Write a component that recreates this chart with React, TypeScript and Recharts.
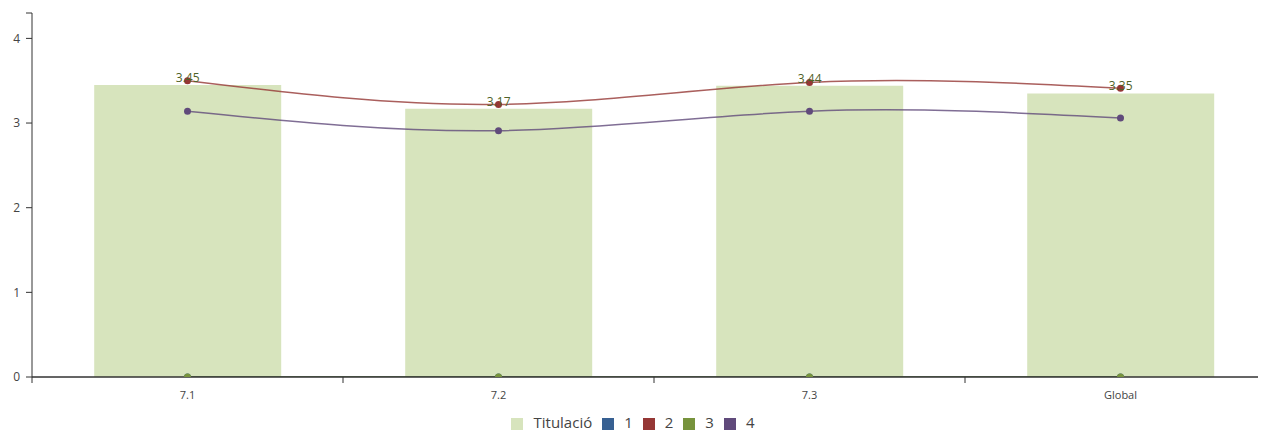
import { ComposedChart, Bar, Line, XAxis, YAxis, Legend, LabelList, ReferenceLine } from 'recharts';

const categories = ['7.1', '7.2', '7.3', 'Global'];
const titulacio = [3.45, 3.17, 3.44, 3.35];
const serie1 = [0, 0, 0, 0];
const serie2 = [3.5, 3.22, 3.48, 3.41];
const serie3 = [0, 0, 0, 0];
const serie4 = [3.14, 2.91, 3.14, 3.06];
const yTicks = [0, 1, 2, 3, 4, 4.3];
const legendOrder = ['Titulació', '1', '2', '3', '4'];

const data = categories.map((c, i) => ({
  name: c,
  titulacio: titulacio[i],
  s1: serie1[i],
  s2: serie2[i],
  s3: serie3[i],
  s4: serie4[i],
}));

const BAND = 311;
const AXIS = '#333';
const FONT = '"Open Sans", "Noto Sans", sans-serif';

// category label in the middle, tick mark at the left edge of each band
function XTick(props: any) {
  const { x, y, payload } = props;
  const axisY = y - 14;
  return (
    <g>
      <line x1={x - BAND / 2} x2={x - BAND / 2} y1={axisY} y2={axisY + 6} stroke={AXIS} />
      <text x={x} y={y} dy="0.71em" textAnchor="middle" fontSize={11} fill="#444" fontFamily={FONT}>
        {payload.value}
      </text>
    </g>
  );
}

export default function App() {
  const lines = [
    { key: 's1', name: '1', color: '#376092' },
    { key: 's2', name: '2', color: '#953735' },
    { key: 's3', name: '3', color: '#77933c' },
    { key: 's4', name: '4', color: '#604a7b' },
  ];
  return (
    <div style={{ width: 1266, height: 432, overflow: 'hidden', margin: '-8px -8px 0 -8px', fontFamily: FONT }}>
      <ComposedChart
        width={1276}
        height={432}
        data={data}
        margin={{ top: 13, right: 0, bottom: 0, left: 0 }}
        barCategoryGap="20%"
      >
        <XAxis
          dataKey="name"
          height={28}
          tickLine={false}
          tickSize={6}
          tickMargin={8}
          tick={<XTick />}
          axisLine={{ stroke: AXIS }}
        />
        <YAxis
          width={32}
          domain={[0, 4.3]}
          allowDataOverflow
          ticks={yTicks}
          interval={0}
          tickSize={6}
          tickMargin={6}
          tickFormatter={(v: number) => (v === 4.3 ? '' : String(v))}
          tick={{ fontSize: 12, fill: '#444', fontFamily: FONT }}
          axisLine={{ stroke: AXIS }}
          tickLine={{ stroke: AXIS }}
        />
        <Legend
          verticalAlign="bottom"
          iconType="square"
          iconSize={12}
          itemSorter={(item: any) => legendOrder.indexOf(item.value)}
          wrapperStyle={{ fontSize: 15, fontFamily: FONT, lineHeight: '20px', paddingTop: 7 }}
          formatter={(v: string) => (
            <span style={{ color: '#444', paddingLeft: 6 }}>{v}</span>
          )}
        />
        <Bar dataKey="titulacio" name="Titulació" fill="#d7e4bd" isAnimationActive={false}>
          <LabelList
            dataKey="titulacio"
            position="top"
            offset={3}
            fontSize={12}
            fill="#4f6228"
            fontFamily={FONT}
            formatter={(v: number) => v.toFixed(2)}
          />
        </Bar>
        {lines.map((l) => (
          <Line
            key={l.key}
            dataKey={l.key}
            name={l.name}
            type="natural"
            stroke={l.color}
            strokeOpacity={0.8}
            strokeWidth={1.5}
            dot={{ r: 3.5, fill: l.color, stroke: l.color, strokeWidth: 0, clipDot: true }}
            activeDot={false}
            legendType="square"
            isAnimationActive={false}
          />
        ))}
        <ReferenceLine y={0} stroke={AXIS} strokeWidth={1} />
      </ComposedChart>
    </div>
  );
}
